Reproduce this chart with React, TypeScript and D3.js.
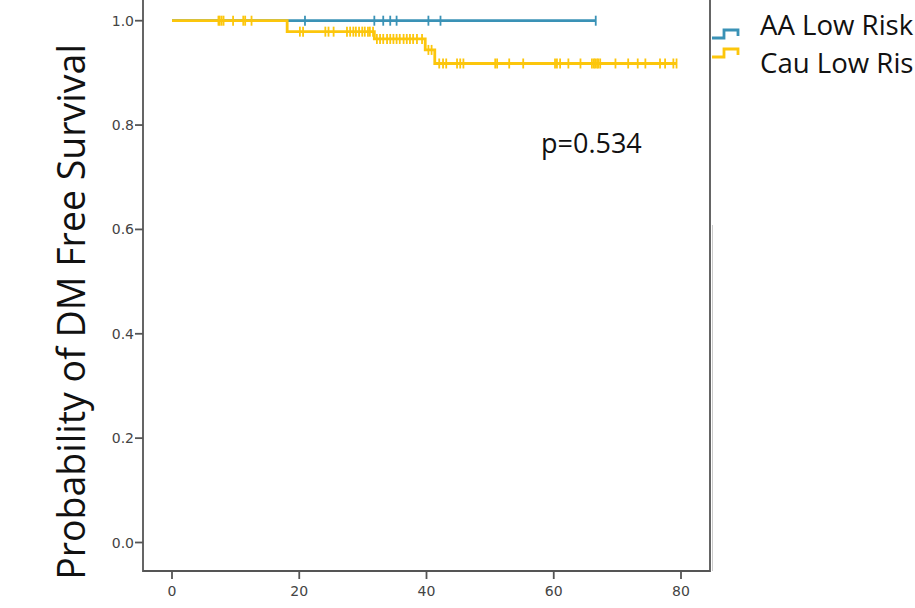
import React from "react";
import * as d3 from "d3";

// ---- data ----
const xTicks = [0, 20, 40, 60, 80];
const yTicks = [0.0, 0.2, 0.4, 0.6, 0.8, 1.0];

// AA Low Risk: no events
const aaEnd = 66.6;
const aaCensor = [20.9, 31.8, 33.2, 34.3, 35.3, 40.3, 42.2, 66.6];

// Cau Low Risk: step times and survival after each step
const cauTimes = [0, 18.1, 31.8, 39.8, 41.3];
const cauSurv = [1.0, 0.979, 0.965, 0.944, 0.918];
const cauEnd = 79.3;
const cauCensor = [
  7.3, 7.5, 7.8, 8.1, 9.6, 11.2, 11.5, 12.5,
  20.1, 20.6, 24.1, 24.6, 25.4, 27.5, 28.0, 28.5, 28.9, 29.4, 29.9, 30.3, 30.8, 31.1, 31.6,
  32.2, 32.7, 33.2, 33.8, 34.3, 34.8, 35.3, 35.8, 36.4, 36.9, 37.4, 37.9, 38.5, 39.3,
  40.3, 40.8,
  42.0, 42.6, 43.1, 44.8, 45.3, 45.8, 50.8, 51.1, 53.0, 55.2, 60.2, 60.5, 61.0, 62.3,
  64.2, 66.0, 66.3, 66.5, 66.8, 67.0, 67.3, 69.7, 71.7, 73.2, 74.4, 76.7, 77.5, 78.8, 79.3,
];

const legendLabels = ["AA Low Risk", "Cau Low Risk"];
const pText = "p=0.534";
const yTitle = "Probability of DM Free Survival";

const BLUE = "#3a92b6";
const YELLOW = "#fcc60c";

export default function App() {
  const W = 915, H = 608;
  const x = d3.scaleLinear().domain([0, 80]).range([172, 681]);
  const y = d3.scaleLinear().domain([0, 1]).range([542.5, 20.7]);
  const frame = { left: 143, right: 710, bottom: 571, top: -5 };

  const survAt = (t: number) => {
    let s = cauSurv[0];
    for (let i = 0; i < cauTimes.length; i++) if (cauTimes[i] <= t) s = cauSurv[i];
    return s;
  };

  const line = d3
    .line<[number, number]>()
    .x((d) => x(d[0]))
    .y((d) => y(d[1]))
    .curve(d3.curveStepAfter);

  const cauPts: [number, number][] = cauTimes.map((t, i) => [t, cauSurv[i]] as [number, number]);
  cauPts.push([cauEnd, cauSurv[cauSurv.length - 1]]);
  const aaPts: [number, number][] = [[0, 1], [aaEnd, 1]];

  const tickFont = { fontFamily: "DejaVu Sans", fontSize: 14, fill: "#444" };
  const sans = "'Open Sans', sans-serif";

  const legendIcon = (y0: number, color: string) => {
    const p = d3.path();
    p.moveTo(712, y0 + 8);
    p.lineTo(724, y0 + 8);
    p.lineTo(724, y0);
    p.lineTo(738, y0);
    p.lineTo(738, y0 + 6);
    return <path d={p.toString()} fill="none" stroke={color} strokeWidth={2.8} />;
  };

  return (
    <svg width={W} height={H} style={{ position: "absolute", left: 0, top: 0, background: "#fff" }}>
      <rect width={W} height={H} fill="#fff" />
      {/* frame */}
      <path
        d={`M${frame.left},${frame.top}V${frame.bottom}H${frame.right}V${frame.top}`}
        fill="none"
        stroke="#555"
        strokeWidth={1.8}
      />
      <line x1={712.5} x2={712.5} y1={225} y2={frame.bottom} stroke="#ccc" strokeWidth={1} />
      {/* y ticks */}
      {yTicks.map((v) => (
        <g key={"y" + v}>
          <line x1={frame.left - 8} x2={frame.left} y1={y(v)} y2={y(v)} stroke="#555" strokeWidth={1.8} />
          <text x={frame.left - 9} y={y(v)} dy="0.36em" textAnchor="end" {...tickFont}>
            {d3.format(".1f")(v)}
          </text>
        </g>
      ))}
      {/* x ticks */}
      {xTicks.map((v) => (
        <g key={"x" + v}>
          <line x1={x(v)} x2={x(v)} y1={frame.bottom} y2={frame.bottom + 8} stroke="#555" strokeWidth={1.8} />
          <text x={x(v)} y={596} textAnchor="middle" {...tickFont}>
            {v}
          </text>
        </g>
      ))}
      {/* curves */}
      <path d={line(aaPts) || ""} fill="none" stroke={BLUE} strokeWidth={2.8} />
      <path d={line(cauPts) || ""} fill="none" stroke={YELLOW} strokeWidth={2.8} />
      {aaCensor.map((t, i) => (
        <line key={"ac" + i} x1={x(t)} x2={x(t)} y1={y(1) - 5} y2={y(1) + 5} stroke={BLUE} strokeWidth={1.8} />
      ))}
      {cauCensor.map((t, i) => (
        <line
          key={"cc" + i}
          x1={x(t)}
          x2={x(t)}
          y1={y(survAt(t)) - 5}
          y2={y(survAt(t)) + 5}
          stroke={YELLOW}
          strokeWidth={1.8}
        />
      ))}
      {/* p value */}
      <text x={541} y={153} fontFamily={sans} fontSize={27} fill="#111">
        {pText}
      </text>
      {/* legend */}
      {legendIcon(30, BLUE)}
      {legendIcon(49, YELLOW)}
      <text x={760} y={35} fontFamily={sans} fontSize={27.6} fill="#111">
        {legendLabels[0]}
      </text>
      <text x={760} y={73} fontFamily={sans} fontSize={27.6} fill="#111">
        {legendLabels[1]}
      </text>
      {/* y title */}
      <text
        transform={`translate(85,312) rotate(-90)`}
        textAnchor="middle"
        fontFamily={sans}
        fontSize={37.5}
        fill="#111"
      >
        {yTitle}
      </text>
    </svg>
  );
}
